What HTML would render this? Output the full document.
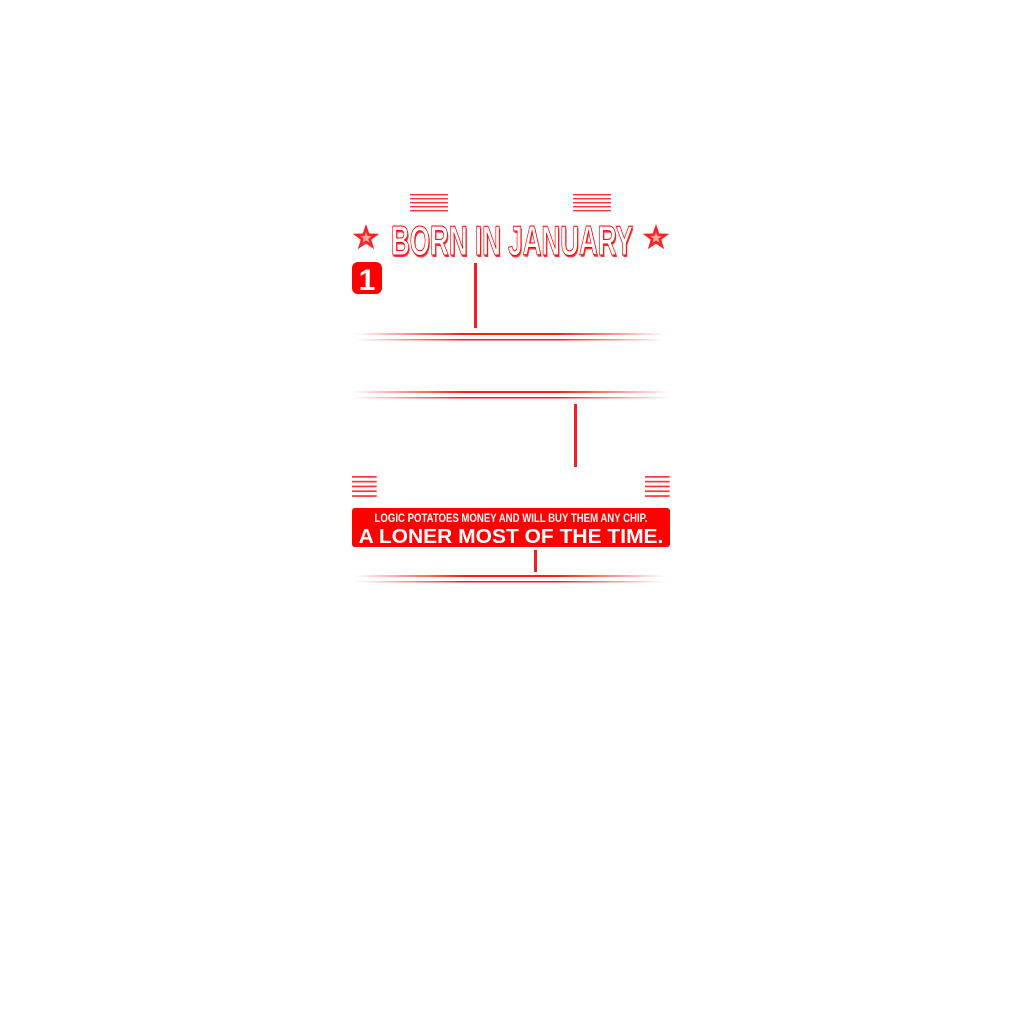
<!DOCTYPE html>
<html><head><style>
html,body{margin:0;padding:0;background:#fff;width:1024px;height:1024px;overflow:hidden}
</style></head><body>
<svg width="1024" height="1024" viewBox="0 0 1024 1024" xmlns="http://www.w3.org/2000/svg">
<defs>
<linearGradient id="h" x1="0" x2="1" y1="0" y2="0">
<stop offset="0" stop-color="#f00" stop-opacity="0"/>
<stop offset="0.35" stop-color="#f00" stop-opacity="0.9"/>
<stop offset="0.65" stop-color="#f00" stop-opacity="0.9"/>
<stop offset="1" stop-color="#f00" stop-opacity="0"/>
</linearGradient>
<g id="stripes">
<rect x="0" y="0" width="38" height="1.4" fill="#f33"/>
<rect x="0" y="4" width="38" height="1.4" fill="#f33"/>
<rect x="0" y="8" width="38" height="1.4" fill="#f33"/>
<rect x="0" y="12" width="38" height="1.4" fill="#f33"/>
<rect x="0" y="16" width="38" height="1.4" fill="#f33"/>
</g>
<g id="star"><polygon points="0,-14 3.3,-4.5 13.3,-4.3 5.3,1.7 8.2,11.3 0,5.6 -8.2,11.3 -5.3,1.7 -13.3,-4.3 -3.3,-4.5" fill="#f22"/><polygon points="0,-6 1.5,-2 5.7,-1.8 2.3,0.7 3.5,4.8 0,2.4 -3.5,4.8 -2.3,0.7 -5.7,-1.8 -1.5,-2" fill="#fff" opacity="0.6"/></g>
</defs>
<use href="#stripes" x="410" y="194"/>
<use href="#stripes" x="573" y="194"/>
<use href="#star" x="366" y="238"/>
<use href="#star" x="656" y="238"/>
<text x="0" y="0" transform="translate(513,257) scale(0.62,1)" text-anchor="middle" font-family="Liberation Sans, sans-serif" font-weight="bold" font-size="42" fill="#f33">BORN IN JANUARY</text>
<text x="0" y="0" transform="translate(512,255) scale(0.62,1)" text-anchor="middle" font-family="Liberation Sans, sans-serif" font-weight="bold" font-size="42" fill="#fff" stroke="#e00" stroke-width="1">BORN IN JANUARY</text>
<rect x="352" y="262" width="30" height="32" rx="6" fill="#f00"/>
<text x="367" y="290" text-anchor="middle" font-family="Liberation Sans, sans-serif" font-weight="bold" font-size="30" fill="#fff">1</text>
<rect x="474" y="263" width="3" height="65" fill="#e22"/>
<rect x="355" y="333" width="310" height="2" fill="url(#h)"/>
<rect x="355" y="339" width="310" height="1.5" fill="url(#h)"/>
<rect x="352" y="391" width="318" height="2" fill="url(#h)"/>
<rect x="352" y="397" width="318" height="1.5" fill="url(#h)"/>
<rect x="574" y="404" width="3" height="63" fill="#e22"/>
<g transform="translate(352,476) scale(0.65,1.2)"><use href="#stripes"/></g>
<g transform="translate(645,476) scale(0.65,1.2)"><use href="#stripes"/></g>
<rect x="352" y="508" width="318" height="39" rx="3" fill="#f00"/>
<text x="0" y="0" transform="translate(511,522) scale(0.8,1)" text-anchor="middle" font-family="Liberation Sans, sans-serif" font-weight="bold" font-size="12" fill="#fff">LOGIC POTATOES MONEY AND WILL BUY THEM ANY CHIP.</text>
<text x="0" y="0" transform="translate(511,543) scale(1.05,1)" text-anchor="middle" font-family="Liberation Sans, sans-serif" font-weight="bold" font-size="20" fill="#fff">A LONER MOST OF THE TIME.</text>
<rect x="534" y="550" width="3" height="22" fill="#e22"/>
<rect x="355" y="575" width="310" height="2" fill="url(#h)"/>
<rect x="355" y="581" width="310" height="1.5" fill="url(#h)"/>
</svg>
</body></html>
